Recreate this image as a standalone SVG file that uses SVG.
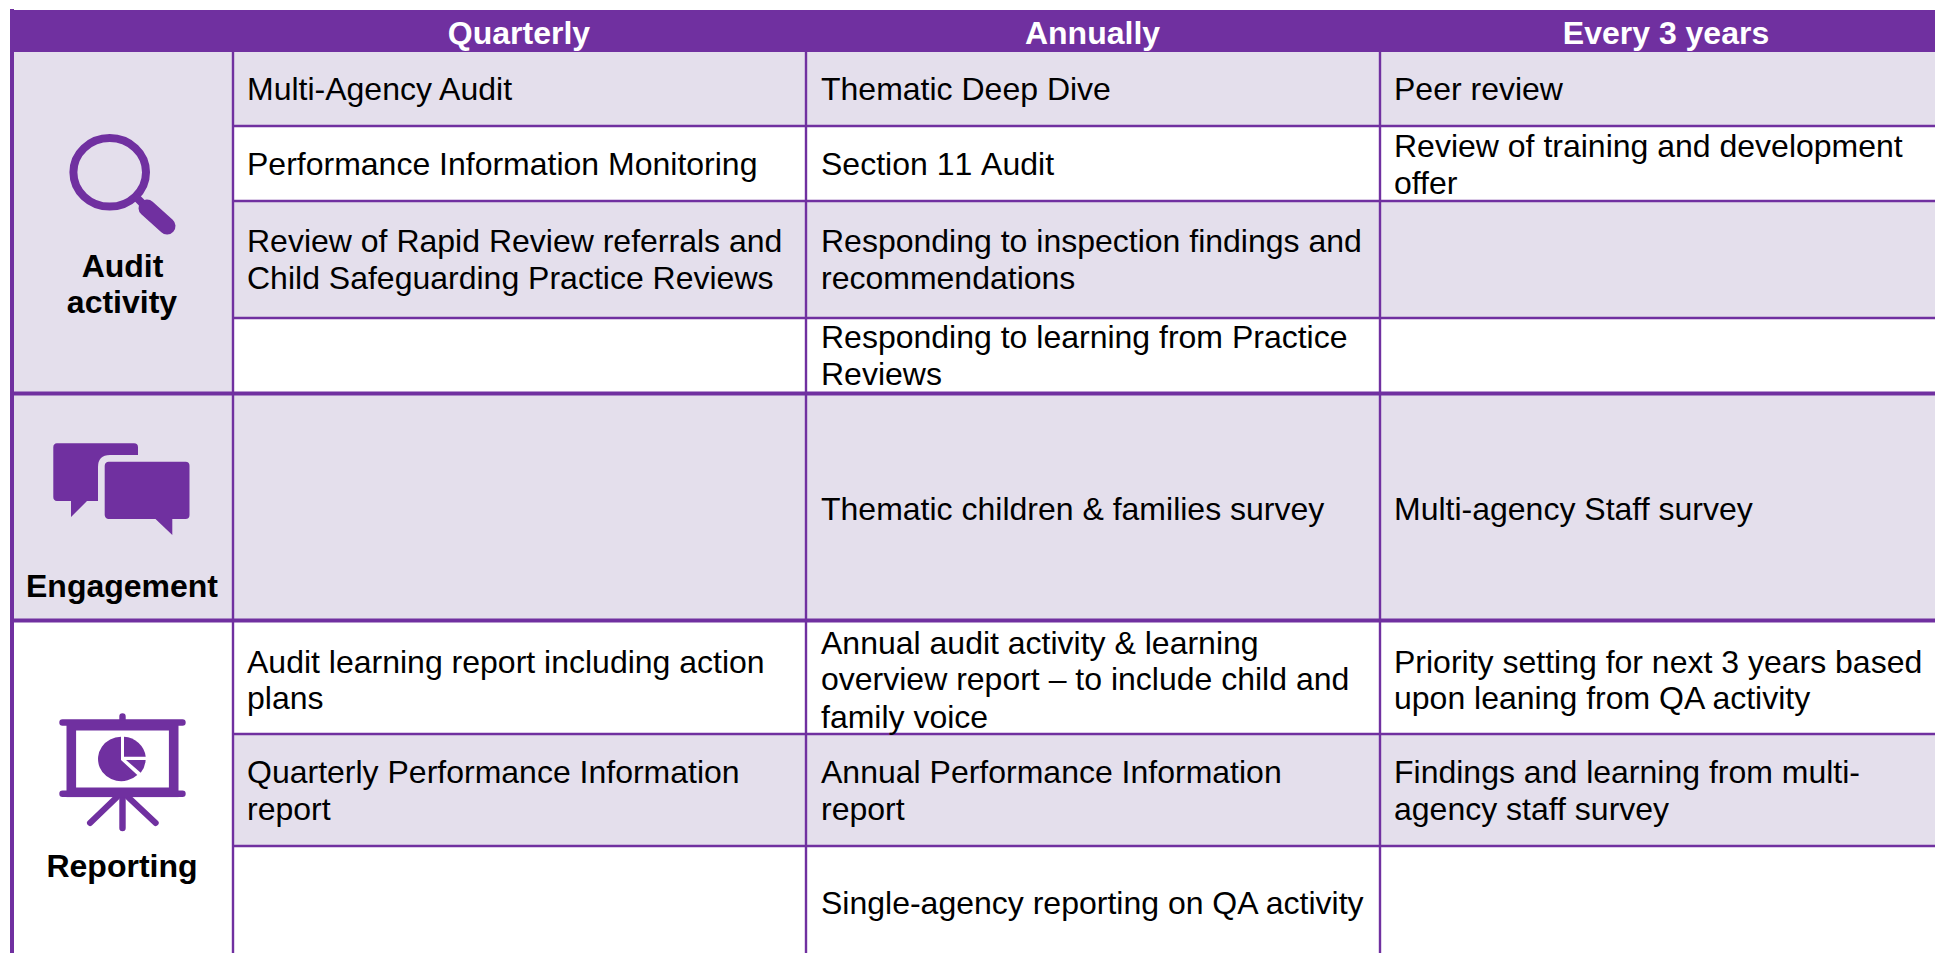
<svg xmlns="http://www.w3.org/2000/svg" width="1935" height="953" viewBox="0 0 1935 953">
<style>
text{font-family:"Liberation Sans",Arial,sans-serif;font-size:32px;fill:#000}
.h{font-weight:bold;fill:#fff;text-anchor:middle}
.b{font-weight:bold;text-anchor:middle}
.l{fill:#E4DFEC}
.i{fill:#7030A0}
.s{stroke:#7030A0;fill:none}
.g{stroke:#7030A0;stroke-width:2.4;fill:none}
.t{stroke:#7030A0;stroke-width:4;fill:none}
</style>
<rect width="1935" height="953" fill="#fff"/>
<g id="fills">
<rect class="l" x="12" y="52" width="221" height="569"/>
<rect class="l" x="233" y="52" width="1702" height="74"/>
<rect class="l" x="233" y="201" width="1702" height="117"/>
<rect class="l" x="233" y="393" width="1702" height="228"/>
<rect class="l" x="233" y="734" width="1702" height="112"/>
<rect class="i" x="10" y="10" width="1925" height="42"/>
</g>
<g id="grid">
<path class="t" d="M12 9V953M12 393.500H1935M12 620.500H1935"/>
<path class="g" d="M233 52V953M806 52V953M1380 52V953M233 126H1935M233 201H1935M233 318H1935M233 734H1935M233 846H1935"/>
</g>
<g id="header">
<text class="h" x="519" y="44">Quarterly</text>
<text class="h" x="1092.500" y="44">Annually</text>
<text class="h" x="1666" y="44">Every 3 years</text>
</g>
<g id="audit">
<ellipse class="s" stroke-width="8" cx="109.700" cy="172.300" rx="36.300" ry="34.300"/>
<path class="s" stroke-width="8" d="M135 196L147 208"/>
<path class="s" stroke-width="17" stroke-linecap="round" d="M147 208L167 226"/>
<text class="b" x="122.500" y="277">Audit</text>
<text class="b" x="122" y="313">activity</text>
</g>
<g id="engagement">
<path class="i" d="M57 443.300H134A4 4 0 0 1 138 447.300V455H110Q98 455 98 467V501H87L71 517V501H57A4 4 0 0 1 53.300 497V447.300A4 4 0 0 1 57 443.300Z"/>
<path class="i" d="M109 461.700H185.500A4 4 0 0 1 189.500 465.700V515A4 4 0 0 1 185.500 519H172.300V535L155.500 519H109A4 4 0 0 1 104.700 515V465.700A4 4 0 0 1 109 461.700Z"/>
<text class="b" x="122" y="597">Engagement</text>
</g>
<g id="reporting">
<path class="s" stroke-width="6.400" stroke-linecap="round" d="M62.500 722.500H182.500M62.500 793.700H182.500M122.500 716.500V722M122.500 796V828"/>
<path class="s" stroke-width="6" stroke-linecap="round" d="M117 797L90 823M128 797L155.700 823"/>
<rect class="s" x="71.300" y="725.700" width="102.400" height="66.600" stroke-width="9.600"/>
<path class="i" d="M121 736.800V760L137.300 775A23.200 22.200 0 1 1 121 736.800Z"/>
<path class="i" d="M124 736.800A23.200 22.200 0 0 1 145.700 756.700H124Z"/>
<path class="i" d="M126 760H145.600A23.200 22.200 0 0 1 140.700 772.700Z"/>
<text class="b" x="122" y="877">Reporting</text>
</g>
<g id="cells">
<text x="247" y="99.800">Multi-Agency Audit</text>
<text x="247" y="175">Performance Information Monitoring</text>
<text x="247" y="252">Review of Rapid Review referrals and</text>
<text x="247" y="288.500">Child Safeguarding Practice Reviews</text>
<text x="247" y="672.500">Audit learning report including action</text>
<text x="247" y="709">plans</text>
<text x="247" y="783">Quarterly Performance Information</text>
<text x="247" y="820">report</text>
<text x="821" y="99.800">Thematic Deep Dive</text>
<text x="821" y="175" style="font-kerning:none">Section 11 Audit</text>
<text x="821" y="252">Responding to inspection findings and</text>
<text x="821" y="288.500">recommendations</text>
<text x="821" y="347.500">Responding to learning from Practice</text>
<text x="821" y="385">Reviews</text>
<text x="821" y="519.500">Thematic children &amp; families survey</text>
<text x="821" y="653.500">Annual audit activity &amp; learning</text>
<text x="821" y="690">overview report – to include child and</text>
<text x="821" y="727.500">family voice</text>
<text x="821" y="783">Annual Performance Information</text>
<text x="821" y="820">report</text>
<text x="821" y="913.500">Single-agency reporting on QA activity</text>
<text x="1394" y="99.800">Peer review</text>
<text x="1394" y="156.500">Review of training and development</text>
<text x="1394" y="193.500">offer</text>
<text x="1394" y="519.500">Multi-agency Staff survey</text>
<text x="1394" y="672.500">Priority setting for next 3 years based</text>
<text x="1394" y="708.500">upon leaning from QA activity</text>
<text x="1394" y="783">Findings and learning from multi-</text>
<text x="1394" y="820">agency staff survey</text>
</g>
</svg>
